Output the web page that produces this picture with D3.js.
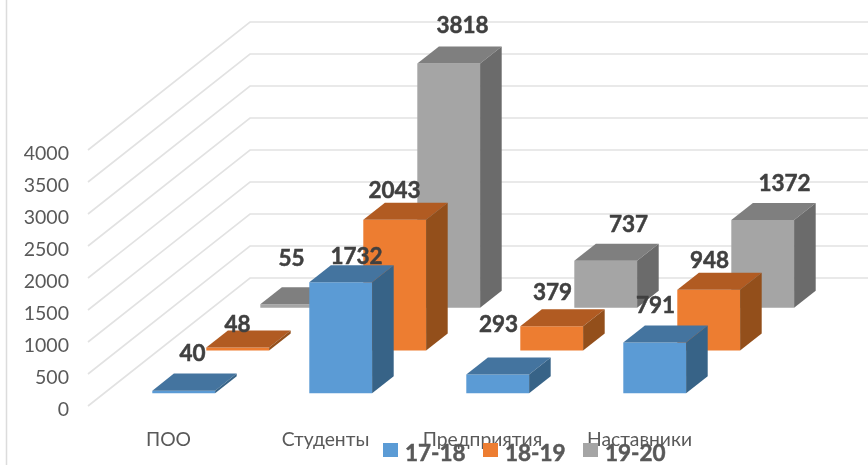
<!DOCTYPE html>
<html>
<head>
<meta charset="utf-8">
<script src="https://cdn.jsdelivr.net/npm/d3@7"></script>
<style>
  html, body { margin: 0; padding: 0; background: #fff; }
  svg { display: block; font-family: Lato, 'Open Sans', sans-serif; filter: blur(0.4px); }
</style>
</head>
<body>
<div id="chart"></div>
<script>
const categories = ['ПОО', 'Студенты', 'Предприятия', 'Наставники']
const seriesNames = ['17-18', '18-19', '19-20']
const values1718 = [40, 1732, 293, 791]
const values1819 = [48, 2043, 379, 948]
const values1920 = [55, 3818, 737, 1372]
const yTicks = [0, 500, 1000, 1500, 2000, 2500, 3000, 3500, 4000]

// faces of each series: front, top, side
const colors = [
  ['#5b9bd5', '#44749f', '#376387'],
  ['#ed7d31', '#b15b22', '#934f1b'],
  ['#a5a5a5', '#7f7f7f', '#6b6b6b']
]

// hand placed labels, relative to the centre of the bar's top face
const labelNudge = [
  [[-2, -30], [5, -18], [-10, -42], [-10, -30]],
  [[-11, -15], [-11, -22], [-10, -26], [-10, -22]],
  [[-11, -38], [3, -30], [12, -29], [11, -29]]
]

const width = 868
const height = 465
const origin = { x: 88, y: 406 }

const svg = d3.select('#chart').append('svg')
  .attr('width', width)
  .attr('height', height)

const xScale = d3.scaleBand().domain(categories).range([1, 629]).paddingInner(0.6).paddingOuter(0.3)
const zScale = d3.scaleBand().domain(seriesNames).range([0, 1]).paddingInner(0.6).paddingOuter(0.3)
const yScale = d3.scaleLinear().domain([0, 4000]).range([0, 256])
const depthX = d3.scaleLinear().domain([0, 1]).range([0, 162])
const depthY = d3.scaleLinear().domain([0, 1]).range([0, 128])

/**
 * Projects a point of the 3D chart space on the page.
 *
 * @param {number} x Distance along the category axis, in pixels
 * @param {number} z Depth, from 0 (front) to 1 (back wall)
 * @param {number} v Height, in pixels
 * @returns {number[]} The page coordinates
 */
function project (x, z, v) {
  return [origin.x + x + depthX(z), origin.y - depthY(z) - v]
}

/**
 * Draws the grid lines on the floor side and on the back wall.
 */
function drawGrid () {
  const line = d3.line()
  svg.append('g')
    .selectAll('path')
    .data(yTicks)
    .enter()
    .append('path')
    .attr('d', (d) => line([
      project(0, 0, yScale(d)),
      project(0, 1, yScale(d)),
      [width, project(0, 1, yScale(d))[1]]
    ]))
    .attr('fill', 'none')
    .attr('stroke', '#e2e2e2')
    .attr('stroke-width', 1.6)
}

/**
 * Draws the value axis labels.
 */
function drawYAxis () {
  const axisScale = d3.scaleLinear().domain([0, 4000]).range([origin.y, origin.y - 256])
  const axis = svg.append('g')
    .attr('transform', 'translate(72, 3.5)')
    .call(d3.axisLeft(axisScale).tickValues(yTicks).tickSize(0).tickFormat(d3.format('d')))
  axis.select('.domain').remove()
  axis.selectAll('text')
    .attr('font-size', 19.5)
    .attr('font-family', 'Lato, "Open Sans", sans-serif')
    .attr('fill', '#595959')
}

/**
 * Draws one 3D bar, as three faces.
 *
 * @param {string} category The category of the bar
 * @param {number} s The index of the series
 * @param {number} value The value of the bar
 */
function drawBar (category, s, value) {
  const x0 = xScale(category)
  const x1 = x0 + xScale.bandwidth()
  const z0 = zScale(seriesNames[s])
  const z1 = z0 + zScale.bandwidth()
  const h = yScale(value)
  const faces = [
    [project(x0, z0, 0), project(x1, z0, 0), project(x1, z0, h), project(x0, z0, h)],
    [project(x0, z0, h), project(x1, z0, h), project(x1, z1, h), project(x0, z1, h)],
    [project(x1, z0, 0), project(x1, z1, 0), project(x1, z1, h), project(x1, z0, h)]
  ]
  svg.append('g')
    .selectAll('polygon')
    .data(faces)
    .enter()
    .append('polygon')
    .attr('points', (d) => d.join(' '))
    .attr('fill', (d, i) => colors[s][i])
}

/**
 * Draws the value label of one bar.
 *
 * @param {string} category The category of the bar
 * @param {number} c The index of the category
 * @param {number} s The index of the series
 * @param {number} value The value of the bar
 */
function drawLabel (category, c, s, value) {
  const x = xScale(category) + xScale.bandwidth() / 2
  const z = zScale(seriesNames[s]) + zScale.bandwidth() / 2
  const p = project(x, z, yScale(value))
  svg.append('text')
    .attr('x', p[0] + labelNudge[s][c][0])
    .attr('y', p[1] + labelNudge[s][c][1])
    .attr('text-anchor', 'middle')
    .attr('dominant-baseline', 'central')
    .attr('font-size', 22.5)
    .attr('font-weight', 700)
    .attr('fill', '#404040')
    .attr('stroke', '#404040')
    .attr('stroke-width', 0.5)
    .text(value)
}

/**
 * Draws the category names under the floor.
 */
function drawCategories () {
  svg.append('g')
    .selectAll('text')
    .data(categories)
    .enter()
    .append('text')
    .attr('x', (d) => origin.x + xScale(d) + xScale.bandwidth() / 2 + 1)
    .attr('y', 438)
    .attr('text-anchor', 'middle')
    .attr('dominant-baseline', 'central')
    .attr('font-size', 19.3)
    .attr('fill', '#595959')
    .text((d) => d)
}

/**
 * Draws the legend at the bottom of the chart.
 */
function drawLegend () {
  const legendScale = d3.scalePoint().domain(seriesNames).range([383, 583])
  const item = svg.append('g')
    .selectAll('g')
    .data(seriesNames)
    .enter()
    .append('g')
    .attr('transform', (d) => 'translate(' + legendScale(d) + ', 443)')

  item.append('rect')
    .attr('width', 15)
    .attr('height', 14)
    .attr('fill', (d, i) => colors[i][0])

  item.append('text')
    .attr('x', 22)
    .attr('y', 9)
    .attr('dominant-baseline', 'central')
    .attr('font-size', 22.5)
    .attr('font-weight', 700)
    .attr('fill', '#595959')
    .attr('stroke', '#595959')
    .attr('stroke-width', 0.5)
    .text((d) => d)
}

// chart frame, only its left edge shows
svg.append('line')
  .attr('x1', 6.5)
  .attr('x2', 6.5)
  .attr('y1', 0)
  .attr('y2', height)
  .attr('stroke', '#dcdcdc')
  .attr('stroke-width', 1.5)

drawGrid()
drawYAxis()

const allValues = [values1718, values1819, values1920]
d3.range(2, -1, -1).forEach((s) => {
  categories.forEach((category, c) => drawBar(category, s, allValues[s][c]))
})

drawCategories()
drawLegend()

allValues.forEach((values, s) => {
  categories.forEach((category, c) => drawLabel(category, c, s, values[c]))
})
</script>
</body>
</html>
